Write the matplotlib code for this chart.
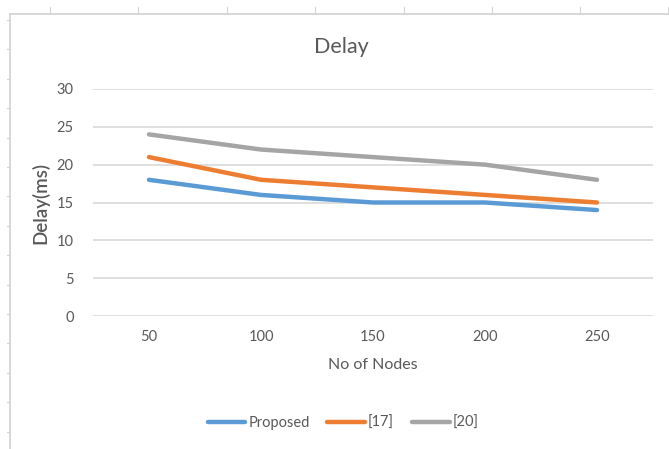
import matplotlib
matplotlib.use("Agg")
import matplotlib.pyplot as plt
from matplotlib.lines import Line2D

# data
nodes = ["50", "100", "150", "200", "250"]
proposed = [18, 16, 15, 15, 14]
ref17 = [21, 18, 17, 16, 15]
ref20 = [24, 22, 21, 20, 18]
y_ticks = [0, 5, 10, 15, 20, 25, 30]

W, H = 669, 449
plt.rcParams['font.family'] = ['Lato', 'DejaVu Sans']
txt = '#595959'
grid = '#D9D9D9'

fig = plt.figure(figsize=(W / 100, H / 100), dpi=100)
fig.patch.set_facecolor('white')


def px(x, y):
    return x / W, 1 - y / H


# worksheet cell border around the chart object
edge = '#D4D4D4'
fig.add_artist(Line2D([px(10, 0)[0], 1], [px(0, 14)[1]] * 2, color=edge, lw=1.3))
fig.add_artist(Line2D([px(10, 0)[0]] * 2, [px(0, 14)[1], 0], color=edge, lw=1.3))
for cx in [50, 138, 227, 315, 404, 492, 580, 668]:
    fig.add_artist(Line2D([px(cx, 0)[0]] * 2, [px(0, 7)[1], px(0, 14)[1]], color=edge, lw=0.8))
for i in range(15):
    ry = 20 + i * 29.4
    fig.add_artist(Line2D([px(7, 0)[0], px(10, 0)[0]], [px(0, ry)[1]] * 2, color=edge, lw=0.8))

ax = fig.add_axes([93 / W, (H - 316) / H, 560 / W, 227 / H])
x = range(len(nodes))
ax.plot(x, proposed, color='#5B9BD5', lw=3.2, solid_capstyle='round', label='Proposed')
ax.plot(x, ref17, color='#ED7D31', lw=3.2, solid_capstyle='round', label='[17]')
ax.plot(x, ref20, color='#A5A5A5', lw=3.2, solid_capstyle='round', label='[20]')

ax.set_xlim(-0.5, len(nodes) - 0.5)
ax.set_ylim(0, 30)
ax.set_yticks(y_ticks)
ax.set_xticks(list(x))
ax.set_xticklabels(nodes)
ax.yaxis.grid(True, color=grid, lw=1.2)
ax.set_axisbelow(True)
for s in ax.spines.values():
    s.set_visible(False)
ax.tick_params(length=0, labelsize=10.5, labelcolor=txt)
ax.tick_params(axis='y', pad=14)
ax.tick_params(axis='x', pad=10)

ax.set_ylabel('Delay(ms)', fontsize=13.5, color=txt, labelpad=5, fontweight='semibold')
ax.set_xlabel('No of Nodes', fontsize=11.5, color=txt, labelpad=10)
fig.text(px(341, 0)[0], px(0, 47)[1], 'Delay', fontsize=15.5, color=txt, ha='center', va='center')

fig.legend(loc='center', bbox_to_anchor=(px(343, 0)[0], px(0, 423)[1]), ncol=3, frameon=False,
           fontsize=10.5, labelcolor=txt, handlelength=2.6, handletextpad=0.2, columnspacing=1.2)

plt.savefig('out.png', dpi=100)
